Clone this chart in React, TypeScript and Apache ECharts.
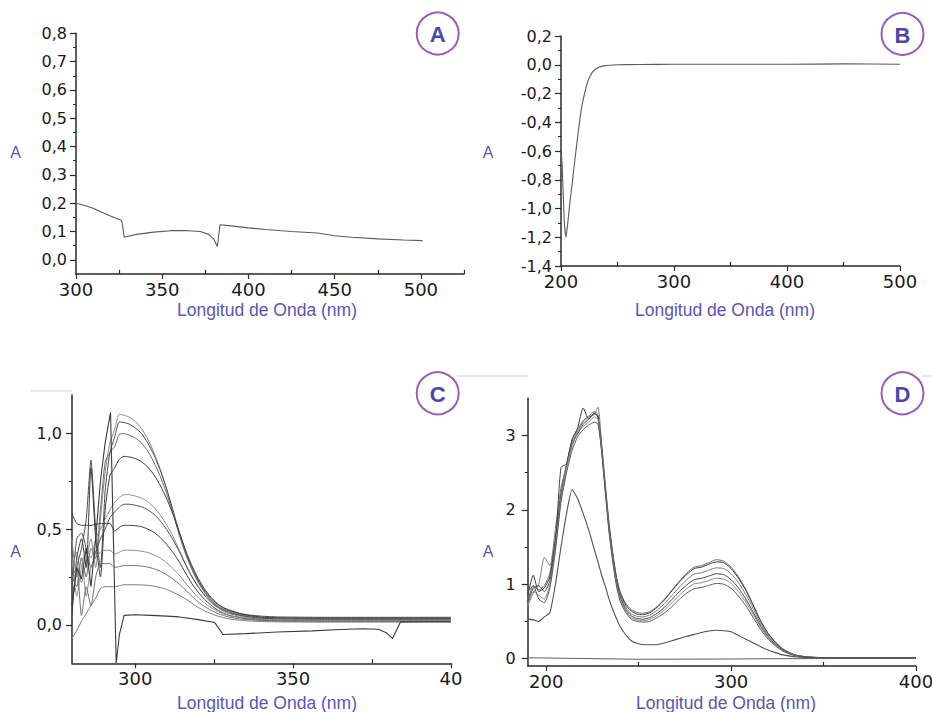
import React, { useEffect, useRef } from "react";
import * as echarts from "echarts";

// ---------- Panel A ----------
const A_WL = [300, 305, 310, 315, 320, 326.5, 328, 335, 345, 355, 365, 372, 377, 380, 382, 383.5, 390, 400, 410, 425, 440, 450, 460, 475, 490, 501];
const A_ABS = [0.2, 0.192, 0.182, 0.168, 0.155, 0.139, 0.08, 0.09, 0.098, 0.103, 0.103, 0.1, 0.09, 0.072, 0.047, 0.124, 0.12, 0.113, 0.107, 0.1, 0.095, 0.085, 0.08, 0.074, 0.07, 0.068];
const A_X_TICKS = [300, 350, 400, 450, 500];
const A_X_MINOR = [325, 375, 425, 475, 525];
const A_Y_TICKS = [0, 0.1, 0.2, 0.3, 0.4, 0.5, 0.6, 0.7, 0.8];
const A_Y_MINOR = [0.05, 0.15, 0.25, 0.35, 0.45, 0.55, 0.65, 0.75];

// ---------- Panel B ----------
const B_WL = [200, 201, 202, 203, 204.4, 206, 208, 210, 212, 214, 216, 218, 220, 222, 224, 226, 228, 231, 234, 238, 243, 250, 270, 300, 350, 400, 450, 500];
const B_ABS = [-0.58, -0.7, -0.9, -1.1, -1.2, -1.1, -0.95, -0.82, -0.68, -0.55, -0.42, -0.31, -0.23, -0.165, -0.11, -0.075, -0.05, -0.028, -0.016, -0.008, -0.003, 0, 0.002, 0.003, 0.003, 0.003, 0.006, 0.004];
const B_X_TICKS = [200, 300, 400, 500];
const B_X_MINOR = [250, 350, 450];
const B_Y_TICKS = [-1.4, -1.2, -1.0, -0.8, -0.6, -0.4, -0.2, 0, 0.2];
const B_Y_MINOR = [-1.3, -1.1, -0.9, -0.7, -0.5, -0.3, -0.1, 0.1];

// ---------- Panel C ----------
const C_WL = [280, 281.5, 283, 284.5, 286, 287.5, 289, 290.5, 292, 293.5, 295, 296.5, 298, 300, 302, 304, 306, 308, 310, 312, 314, 316, 318, 320, 322, 324, 326, 328, 330, 333, 336, 340, 345, 350, 360, 380, 400];
const C_S1 = [0.3, 0.38, 0.22, 0.33, 0.45, 0.3, 0.55, 0.8, 0.95, 1.02, 1.1, 1.094, 1.086, 1.062, 1.025, 0.97, 0.898, 0.81, 0.706, 0.586, 0.467, 0.368, 0.286, 0.22, 0.168, 0.128, 0.1, 0.083, 0.071, 0.056, 0.047, 0.04, 0.037, 0.036, 0.035, 0.035, 0.035];
const C_S2 = [0.1, 0.3, 0.4, 0.55, 0.86, 0.5, 0.3, 0.7, 0.9, 0.98, 1.06, 1.056, 1.049, 1.029, 0.999, 0.95, 0.885, 0.805, 0.708, 0.597, 0.483, 0.383, 0.299, 0.233, 0.179, 0.138, 0.108, 0.09, 0.077, 0.061, 0.052, 0.046, 0.042, 0.041, 0.04, 0.04, 0.04];
const C_S3 = [0.25, 0.2, 0.35, 0.25, 0.4, 0.35, 0.6, 0.85, 0.9, 0.93, 0.995, 0.998, 0.991, 0.976, 0.949, 0.907, 0.847, 0.773, 0.685, 0.583, 0.472, 0.373, 0.292, 0.225, 0.172, 0.131, 0.1, 0.079, 0.067, 0.052, 0.044, 0.036, 0.032, 0.031, 0.03, 0.03, 0.03];
const C_S4 = [0.05, 0.35, 0.45, 0.3, 0.82, 0.45, 0.25, 0.6, 0.78, 0.82, 0.865, 0.88, 0.877, 0.869, 0.852, 0.824, 0.782, 0.726, 0.658, 0.576, 0.482, 0.388, 0.308, 0.241, 0.187, 0.145, 0.112, 0.089, 0.075, 0.06, 0.05, 0.041, 0.0375, 0.036, 0.035, 0.035, 0.035];
const C_S5 = [0.35, 0.15, 0.3, 0.4, 0.35, 0.45, 0.5, 0.55, 0.6, 0.64, 0.665, 0.68, 0.68, 0.673, 0.662, 0.643, 0.613, 0.572, 0.521, 0.461, 0.39, 0.316, 0.251, 0.197, 0.153, 0.117, 0.091, 0.071, 0.058, 0.046, 0.037, 0.03, 0.027, 0.026, 0.025, 0.025, 0.025];
const C_S6 = [0.2, 0.45, 0.48, 0.4, 0.3, 0.38, 0.45, 0.5, 0.56, 0.59, 0.615, 0.63, 0.63, 0.625, 0.617, 0.601, 0.577, 0.542, 0.497, 0.444, 0.382, 0.314, 0.251, 0.199, 0.156, 0.122, 0.095, 0.076, 0.062, 0.051, 0.042, 0.035, 0.032, 0.031, 0.03, 0.03, 0.03];
const C_S7 = [0.58, 0.53, 0.52, 0.52, 0.52, 0.525, 0.53, 0.53, 0.53, 0.49, 0.51, 0.52, 0.52, 0.518, 0.513, 0.5, 0.483, 0.455, 0.42, 0.378, 0.328, 0.27, 0.215, 0.17, 0.133, 0.103, 0.079, 0.061, 0.049, 0.039, 0.031, 0.025, 0.022, 0.021, 0.02, 0.02, 0.02];
const C_S8 = [0.45, 0.25, 0.35, 0.15, 0.3, 0.35, 0.38, 0.39, 0.39, 0.37, 0.38, 0.39, 0.39, 0.389, 0.385, 0.378, 0.366, 0.348, 0.324, 0.294, 0.259, 0.218, 0.178, 0.143, 0.114, 0.091, 0.072, 0.058, 0.048, 0.04, 0.034, 0.029, 0.027, 0.026, 0.025, 0.025, 0.025];
const C_S9 = [0.25, 0.3, 0.05, 0.2, 0.1, 0.25, 0.32, 0.32, 0.32, 0.3, 0.305, 0.31, 0.31, 0.31, 0.307, 0.302, 0.293, 0.28, 0.262, 0.24, 0.213, 0.182, 0.149, 0.12, 0.096, 0.077, 0.061, 0.049, 0.04, 0.032, 0.028, 0.024, 0.021, 0.0205, 0.02, 0.02, 0.02];
const C_S10 = [-0.07, -0.03, 0.02, 0.06, 0.1, 0.14, 0.19, 0.2, 0.2, 0.2, 0.205, 0.21, 0.21, 0.21, 0.209, 0.207, 0.202, 0.195, 0.185, 0.171, 0.154, 0.135, 0.113, 0.091, 0.074, 0.059, 0.047, 0.038, 0.031, 0.025, 0.021, 0.018, 0.016, 0.0156, 0.015, 0.015, 0.015];
const C_ART_WL = [280, 281.5, 283, 284.5, 286, 287.5, 289, 290.5, 292.2, 294, 295, 296.5, 300, 305, 310, 314, 320, 325.2, 327.8, 335, 345, 356, 365, 372, 377, 379.5, 381.5, 384, 392, 400];
const C_ART = [0.1, 0.3, 0.24, 0.4, 0.2, 0.45, 0.75, 0.95, 1.11, -0.2, -0.05, 0.05, 0.053, 0.05, 0.046, 0.042, 0.028, 0.0125, -0.05, -0.045, -0.037, -0.031, -0.024, -0.02, -0.022, -0.04, -0.071, 0.016, 0.017, 0.017];
const C_X_TICKS = [300, 350, 400];
const C_X_MINOR = [325, 375];
const C_Y_TICKS = [0, 0.5, 1.0];
const C_Y_MINOR = [0.25, 0.75];

// ---------- Panel D ----------
const D_WL = [190, 193, 196, 199, 202, 205, 208, 211, 214, 217, 220, 223, 226, 228, 230, 232, 234, 236, 238, 240, 243, 246, 249, 252, 256, 260, 264, 268, 272, 276, 280, 284, 288, 292, 296, 300, 304, 308, 312, 316, 320, 324, 328, 332, 336, 342, 350, 370, 400];
const D_U1 = [0.78, 0.98, 0.92, 0.98, 1.15, 1.65, 2.25, 2.62, 2.92, 3.08, 3.2, 3.26, 3.32, 3.28, 2.85, 2.3, 1.8, 1.42, 1.1, 0.9, 0.74, 0.66, 0.62, 0.61, 0.63, 0.7, 0.8, 0.92, 1.04, 1.15, 1.23, 1.25, 1.29, 1.33, 1.31, 1.23, 1.1, 0.93, 0.72, 0.51, 0.34, 0.22, 0.13, 0.075, 0.04, 0.02, 0.013, 0.01, 0.01];
const D_U2 = [0.85, 1.12, 0.9, 0.95, 1.1, 1.6, 2.2, 2.6, 2.95, 3.1, 3.37, 3.22, 3.3, 3.25, 2.8, 2.28, 1.78, 1.4, 1.08, 0.88, 0.72, 0.64, 0.6, 0.59, 0.615, 0.69, 0.79, 0.91, 1.03, 1.13, 1.21, 1.23, 1.27, 1.3, 1.29, 1.21, 1.08, 0.915, 0.71, 0.5, 0.335, 0.215, 0.128, 0.073, 0.04, 0.02, 0.013, 0.01, 0.01];
const D_U3 = [0.7, 0.88, 1.0, 1.36, 1.25, 1.75, 2.3, 2.58, 2.85, 3.05, 3.18, 3.25, 3.28, 3.38, 2.9, 2.35, 1.82, 1.4, 1.07, 0.86, 0.69, 0.6, 0.57, 0.56, 0.585, 0.65, 0.74, 0.85, 0.96, 1.06, 1.135, 1.155, 1.19, 1.22, 1.21, 1.14, 1.02, 0.86, 0.67, 0.47, 0.315, 0.205, 0.12, 0.07, 0.038, 0.019, 0.012, 0.01, 0.01];
const D_U4 = [0.75, 0.95, 0.98, 0.9, 1.05, 1.55, 2.57, 2.62, 2.9, 3.02, 3.15, 3.22, 3.3, 3.26, 2.82, 2.28, 1.76, 1.36, 1.04, 0.83, 0.66, 0.575, 0.54, 0.53, 0.55, 0.61, 0.69, 0.795, 0.9, 0.99, 1.06, 1.08, 1.11, 1.14, 1.13, 1.06, 0.95, 0.8, 0.62, 0.44, 0.295, 0.19, 0.113, 0.066, 0.036, 0.018, 0.012, 0.01, 0.01];
const D_U5 = [0.72, 0.9, 0.85, 0.8, 1.0, 1.5, 2.15, 2.55, 2.88, 3.05, 3.12, 3.18, 3.25, 3.22, 2.8, 2.25, 1.72, 1.32, 1.0, 0.8, 0.64, 0.55, 0.52, 0.51, 0.525, 0.58, 0.655, 0.75, 0.85, 0.94, 1.005, 1.02, 1.05, 1.08, 1.07, 1.01, 0.9, 0.76, 0.59, 0.42, 0.28, 0.18, 0.107, 0.062, 0.034, 0.017, 0.012, 0.01, 0.01];
const D_U6 = [0.9, 0.98, 0.8, 0.75, 0.95, 1.45, 2.1, 2.5, 2.8, 2.98, 3.08, 3.14, 3.18, 3.15, 2.78, 2.22, 1.7, 1.3, 0.98, 0.77, 0.62, 0.53, 0.5, 0.49, 0.5, 0.55, 0.615, 0.7, 0.795, 0.88, 0.94, 0.955, 0.985, 1.01, 1.0, 0.945, 0.84, 0.71, 0.55, 0.39, 0.26, 0.17, 0.1, 0.058, 0.032, 0.016, 0.012, 0.01, 0.01];
const D_LOW = [0.53, 0.52, 0.5, 0.56, 0.62, 1.0, 1.5, 1.95, 2.27, 2.15, 1.95, 1.73, 1.47, 1.3, 1.12, 0.97, 0.8, 0.66, 0.54, 0.43, 0.32, 0.24, 0.205, 0.19, 0.185, 0.19, 0.21, 0.24, 0.27, 0.3, 0.325, 0.35, 0.37, 0.38, 0.375, 0.36, 0.31, 0.26, 0.21, 0.16, 0.115, 0.08, 0.05, 0.033, 0.022, 0.013, 0.01, 0.01, 0.01];
const D_BASE_WL = [190, 250, 300, 400];
const D_BASE = [0.01, -0.01, -0.005, 0.005];
const D_X_TICKS = [200, 300, 400];
const D_X_MINOR = [250, 350];
const D_Y_TICKS = [0, 1, 2, 3];
const D_Y_MINOR = [0.5, 1.5, 2.5];

const TICK_FONT = "'DejaVu Sans', Verdana, sans-serif";
const TITLE_FONT = "'Liberation Sans', Arial, sans-serif";
const PURPLE_TEXT = "#5a55b4";
const AXIS_COLOR = "#2a2a2a";

const pts = (xs: number[], ys: number[]) => xs.map((x, i) => [x, ys[i]]);
const comma1 = (v: number) => v.toFixed(1).replace(".", ",");

type PanelSpec = {
  grid: number;
  xmin: number; xmax: number; xTicks: number[]; xMinor: number[]; xFmt: (v: number) => string;
  ymin: number; ymax: number; yTicks: number[]; yMinor: number[]; yFmt: (v: number) => string;
  yLabelMargin: number;
};

function axesFor(p: PanelSpec) {
  const xMain = {
    type: "value", gridIndex: p.grid, min: p.xmin, max: p.xmax, position: "bottom",
    axisLine: { show: true, onZero: false, lineStyle: { color: AXIS_COLOR, width: 1.5 } },
    axisTick: { show: true, inside: false, length: 5, customValues: p.xTicks, lineStyle: { color: AXIS_COLOR, width: 1.2 } },
    axisLabel: { show: true, customValues: p.xTicks, formatter: p.xFmt, color: "#1a1a1a", fontSize: 18, fontFamily: TICK_FONT, margin: 6 },
    splitLine: { show: false },
  };
  const xMin = {
    type: "value", gridIndex: p.grid, min: p.xmin, max: p.xmax, position: "bottom",
    axisLine: { show: false, onZero: false },
    axisTick: { show: true, inside: true, length: 4, customValues: p.xMinor, lineStyle: { color: AXIS_COLOR, width: 1.2 } },
    axisLabel: { show: false },
    splitLine: { show: false },
  };
  const yMain = {
    type: "value", gridIndex: p.grid, min: p.ymin, max: p.ymax, position: "left",
    axisLine: { show: true, onZero: false, lineStyle: { color: AXIS_COLOR, width: 1.5 } },
    axisTick: { show: true, inside: false, length: 6, customValues: p.yTicks, lineStyle: { color: AXIS_COLOR, width: 1.2 } },
    axisLabel: { show: true, customValues: p.yTicks, formatter: p.yFmt, color: "#1a1a1a", fontSize: 16, fontFamily: TICK_FONT, margin: p.yLabelMargin },
    splitLine: { show: false },
  };
  const yMin = {
    type: "value", gridIndex: p.grid, min: p.ymin, max: p.ymax, position: "left",
    axisLine: { show: false, onZero: false },
    axisTick: { show: true, inside: false, length: 3, customValues: p.yMinor, lineStyle: { color: AXIS_COLOR, width: 1 } },
    axisLabel: { show: false },
    splitLine: { show: false },
  };
  return { x: [xMain, xMin], y: [yMain, yMin] };
}

function lineSeries(gridIdx: number, data: number[][], color: string, width = 1, smooth: number | boolean = false) {
  return {
    type: "line",
    xAxisIndex: gridIdx * 2,
    yAxisIndex: gridIdx * 2,
    data,
    showSymbol: false,
    symbol: "none",
    silent: true,
    clip: true,
    smooth,
    lineStyle: { color, width },
  };
}

function badge(cx: number, cy: number, letter: string) {
  return [
    { type: "circle", shape: { cx, cy, r: 21 }, style: { fill: "#ffffff", stroke: "#9d5cb9", lineWidth: 2 }, z: 10 },
    {
      type: "text", x: cx, y: cy + 1, z: 11,
      style: { text: letter, fill: "#4b47a8", fontSize: 22, fontWeight: "bold", fontFamily: TITLE_FONT, align: "center", verticalAlign: "middle", textAlign: "center", textVerticalAlign: "middle" },
    },
  ];
}

function label(x: number, y: number, text: string, size: number) {
  return {
    type: "text", x, y, z: 11,
    style: { text, fill: PURPLE_TEXT, fontSize: size, fontFamily: TITLE_FONT, align: "center", verticalAlign: "middle", textAlign: "center", textVerticalAlign: "middle" },
  };
}

export default function App() {
  const ref = useRef<HTMLDivElement>(null);

  useEffect(() => {
    if (!ref.current) return;
    const chart = echarts.init(ref.current, null, { renderer: "svg" });

    const panels: PanelSpec[] = [
      { grid: 0, xmin: 300, xmax: 525, xTicks: A_X_TICKS, xMinor: A_X_MINOR, xFmt: (v) => String(v),
        ymin: -0.05, ymax: 0.8, yTicks: A_Y_TICKS, yMinor: A_Y_MINOR, yFmt: comma1, yLabelMargin: 9 },
      { grid: 1, xmin: 200, xmax: 500, xTicks: B_X_TICKS, xMinor: B_X_MINOR, xFmt: (v) => String(v),
        ymin: -1.4, ymax: 0.2, yTicks: B_Y_TICKS, yMinor: B_Y_MINOR, yFmt: comma1, yLabelMargin: 9 },
      { grid: 2, xmin: 280, xmax: 400, xTicks: C_X_TICKS, xMinor: C_X_MINOR, xFmt: (v) => (v === 400 ? "40" : String(v)),
        ymin: -0.2, ymax: 1.2, yTicks: C_Y_TICKS, yMinor: C_Y_MINOR, yFmt: comma1, yLabelMargin: 10 },
      { grid: 3, xmin: 190, xmax: 400, xTicks: D_X_TICKS, xMinor: D_X_MINOR, xFmt: (v) => String(v),
        ymin: -0.1, ymax: 3.5, yTicks: D_Y_TICKS, yMinor: D_Y_MINOR, yFmt: (v) => String(Math.round(v)), yLabelMargin: 12 },
    ];

    const xAxis: any[] = [];
    const yAxis: any[] = [];
    panels.forEach((p) => {
      const a = axesFor(p);
      xAxis.push(...a.x);
      yAxis.push(...a.y);
    });

    const grids = [
      { left: 76, top: 33.3, width: 388, height: 240.7 },
      { left: 561, top: 36, width: 339, height: 230 },
      { left: 72, top: 395, width: 379, height: 268.3 },
      { left: 527.7, top: 398.3, width: 388.3, height: 267.7 },
    ].map((g) => ({ ...g, containLabel: false, outerBoundsMode: "none", show: false }));

    const cSeries = [C_S1, C_S2, C_S3, C_S4, C_S5, C_S6, C_S7, C_S8, C_S9, C_S10];
    const cColors = ["#8a8a8a", "#4a4a4a", "#6a6a6a", "#3c3c3c", "#8c8c8c", "#505050", "#3a3a3a", "#8a8a8a", "#707070", "#7a7a7a"];
    const dSeries = [D_U1, D_U2, D_U3, D_U4, D_U5, D_U6];
    const dColors = ["#6e6e6e", "#3a3a3a", "#7a7a7a", "#444444", "#888888", "#5a5a5a"];

    const series: any[] = [
      lineSeries(0, pts(A_WL, A_ABS), "#5a5a5a", 1.1),
      lineSeries(1, pts(B_WL, B_ABS), "#5a5a5a", 1.1, 0.2),
      ...cSeries.map((s, i) => lineSeries(2, pts(C_WL, s), cColors[i], 1, 0.2)),
      lineSeries(2, pts(C_ART_WL, C_ART), "#3a3a3a", 1.1),
      ...dSeries.map((s, i) => lineSeries(3, pts(D_WL, s), dColors[i], 1, 0.2)),
      lineSeries(3, pts(D_WL, D_LOW), "#505050", 1.1, 0.2),
      lineSeries(3, pts(D_BASE_WL, D_BASE), "#606060", 1.1),
    ];

    const graphic: any[] = [
      ...badge(437.7, 33.5, "A"),
      ...badge(902.5, 34, "B"),
      ...badge(437.7, 393.3, "C"),
      ...badge(902.5, 393.3, "D"),
      label(15.5, 152.5, "A", 16),
      label(488, 152.5, "A", 16),
      label(15.5, 551.5, "A", 16),
      label(488, 551.5, "A", 16),
      label(267, 310, "Longitud de Onda (nm)", 17.5),
      label(725, 310, "Longitud de Onda (nm)", 17.5),
      label(267, 703, "Longitud de Onda (nm)", 17.5),
      label(726, 703, "Longitud de Onda (nm)", 17.5),
      { type: "line", shape: { x1: 31, y1: 391, x2: 72, y2: 391 }, style: { stroke: "#cfcfcf", lineWidth: 1 } },
      { type: "line", shape: { x1: 457, y1: 376, x2: 470, y2: 376 }, style: { stroke: "#cfcfcf", lineWidth: 1 } },
      { type: "line", shape: { x1: 470, y1: 376, x2: 528, y2: 376 }, style: { stroke: "#cfcfcf", lineWidth: 1 } },
      { type: "line", shape: { x1: 922, y1: 376, x2: 932, y2: 376 }, style: { stroke: "#cfcfcf", lineWidth: 1 } },
    ];

    chart.setOption({
      animation: false,
      backgroundColor: "#ffffff",
      grid: grids,
      xAxis,
      yAxis,
      series,
      graphic,
    });

    return () => {
      chart.dispose();
    };
  }, []);

  return (
    <div
      ref={ref}
      style={{ position: "fixed", left: 0, top: 0, width: 932, height: 712, background: "#fff" }}
    />
  );
}
